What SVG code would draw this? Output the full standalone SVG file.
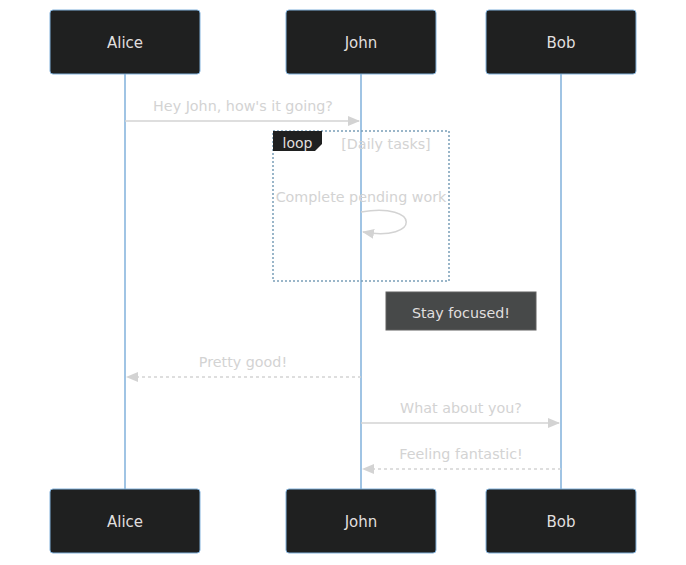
<svg xmlns="http://www.w3.org/2000/svg" width="686" height="565" viewBox="0 0 686 565">
<style>
.actor{fill:#1f2020;stroke:#81b1db;stroke-width:1}
.atext{fill:#e0dfdf;font-family:"DejaVu Sans","Noto Sans",sans-serif;font-size:15px;text-anchor:middle;dominant-baseline:central}
.life{stroke:#81b1db;stroke-width:1.5}
.msg{fill:none;stroke:#d3d3d3;stroke-width:1.5}
.dash{stroke-dasharray:3,3}
.mtext{fill:#d3d3d3;font-family:"DejaVu Sans","Noto Sans",sans-serif;font-size:14.3px;text-anchor:middle}
.loopbox{fill:none;stroke:#7a9fb8;stroke-width:1.5;stroke-dasharray:2,2}
</style>
<defs>
<marker id="arrow" viewBox="0 0 12 10" refX="11" refY="5" markerWidth="12" markerHeight="10" markerUnits="userSpaceOnUse" orient="auto">
<path d="M0,0 L12,5 L0,10 z" fill="#d3d3d3"/>
</marker>
</defs>
<g id="lifelines">
<line class="life" x1="125" y1="74" x2="125" y2="489"/>
<line class="life" x1="361" y1="74" x2="361" y2="489"/>
<line class="life" x1="561" y1="74" x2="561" y2="489"/>
</g>
<g id="actor-alice-top"><rect class="actor" x="50" y="10" width="150" height="64" rx="3"/><text class="atext" x="125" y="43">Alice</text></g>
<g id="actor-john-top"><rect class="actor" x="286" y="10" width="150" height="64" rx="3"/><text class="atext" x="361" y="43">John</text></g>
<g id="actor-bob-top"><rect class="actor" x="486" y="10" width="150" height="64" rx="3"/><text class="atext" x="561" y="43">Bob</text></g>
<g id="actor-alice-bottom"><rect class="actor" x="50" y="489" width="150" height="64" rx="3"/><text class="atext" x="125" y="522">Alice</text></g>
<g id="actor-john-bottom"><rect class="actor" x="286" y="489" width="150" height="64" rx="3"/><text class="atext" x="361" y="522">John</text></g>
<g id="actor-bob-bottom"><rect class="actor" x="486" y="489" width="150" height="64" rx="3"/><text class="atext" x="561" y="522">Bob</text></g>
<g id="loop">
<rect class="loopbox" x="273" y="131" width="176" height="150"/>
<path d="M273,131 L322,131 L322,144 L315,151 L273,151 z" fill="#1f2020"/>
<text x="297.5" y="142.5" fill="#e0dfdf" font-family="DejaVu Sans, Noto Sans, sans-serif" font-size="14" text-anchor="middle" dominant-baseline="central">loop</text>
<text class="mtext" x="386" y="148.5">[Daily tasks]</text>
</g>
<g id="note">
<rect x="386" y="292" width="150" height="38" fill="#474949" stroke="#616161" stroke-width="1"/>
<text x="461" y="312.5" fill="#e0dfdf" font-family="DejaVu Sans, Noto Sans, sans-serif" font-size="14.3" text-anchor="middle" dominant-baseline="central">Stay focused!</text>
</g>
<g id="connectors">
<text class="mtext" x="243" y="110.5">Hey John, how's it going?</text>
<line class="msg" x1="125" y1="121" x2="359" y2="121" marker-end="url(#arrow)"/>
<text class="mtext" x="361" y="201.5">Complete pending work</text>
<path class="msg" d="M361,212 C421,202 421,242 363,232" marker-end="url(#arrow)"/>
<text class="mtext" x="243" y="366.5">Pretty good!</text>
<line class="msg dash" x1="361" y1="377" x2="127" y2="377" marker-end="url(#arrow)"/>
<text class="mtext" x="461" y="412.5">What about you?</text>
<line class="msg" x1="361" y1="423" x2="559" y2="423" marker-end="url(#arrow)"/>
<text class="mtext" x="461" y="458.5">Feeling fantastic!</text>
<line class="msg dash" x1="561" y1="469" x2="363" y2="469" marker-end="url(#arrow)"/>
</g>
</svg>
